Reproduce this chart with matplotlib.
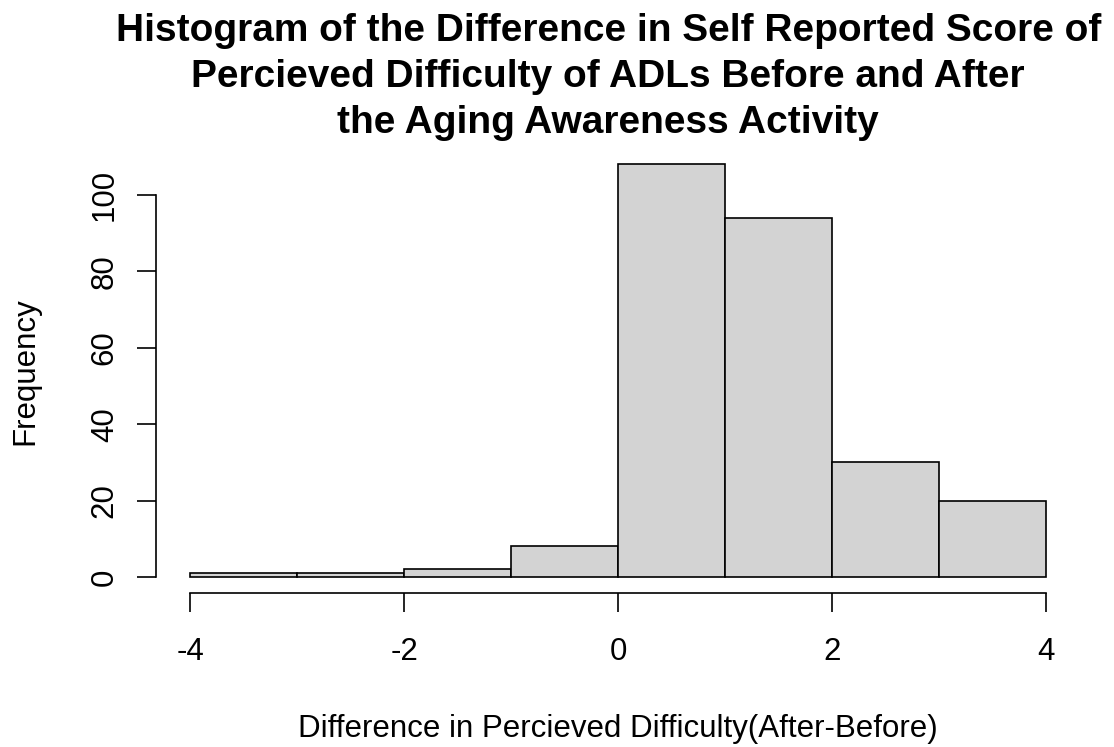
import numpy as np
import matplotlib
matplotlib.use("Agg")
import matplotlib.pyplot as plt

# bin edges and counts
bin_edges = [-4, -3, -2, -1, 0, 1, 2, 3, 4]
counts = [1, 1, 2, 8, 108, 94, 30, 20]
x_ticks = [-4, -2, 0, 2, 4]
y_ticks = [0, 20, 40, 60, 80, 100]

plt.rcParams['font.family'] = ['Liberation Sans', 'DejaVu Sans']

fig = plt.figure(figsize=(11.14, 7.47), dpi=100)
ax = fig.add_axes([0.140, 0.2055, 0.8295, 0.5965])

lefts = np.array(bin_edges[:-1])
widths = np.diff(bin_edges)
ax.bar(lefts, counts, width=widths, align='edge', color='#D3D3D3',
       edgecolor='black', linewidth=1.2)

ax.set_xlim(-4.32, 4.32)
ax.set_ylim(-0.04 * max(counts), 1.04 * max(counts))

for s in ['top', 'right']:
    ax.spines[s].set_visible(False)
ax.spines['bottom'].set_bounds(-4, 4)
ax.spines['left'].set_bounds(0, 100)
ax.spines['bottom'].set_linewidth(1.2)
ax.spines['left'].set_linewidth(1.2)

ax.set_xticks(x_ticks)
ax.set_xticklabels([str(t) for t in x_ticks])
ax.set_yticks(y_ticks)
ax.set_yticklabels([str(t) for t in y_ticks], rotation=90, va='center')
ax.tick_params(axis='both', length=14, width=1.2, labelsize=22.5)
ax.tick_params(axis='x', pad=17)
ax.tick_params(axis='y', pad=12)

ax.set_xlabel('Difference in Percieved Difficulty(After-Before)', fontsize=22.5, va='center')
ax.xaxis.set_label_coords(0.5, -(729 - 593.5) / 445.6)
ax.set_ylabel('Frequency', fontsize=22.5, va='center')
ax.yaxis.set_label_coords(-(156 - 25) / 924.0, 0.5)

fig.suptitle('Histogram of the Difference in Self Reported Score of\n'
             'Percieved Difficulty of ADLs Before and After\n'
             'the Aging Awareness Activity',
             fontsize=28, fontweight='bold', x=0.546, y=0.983, linespacing=1.37)

fig.savefig('out.png', dpi=100)
